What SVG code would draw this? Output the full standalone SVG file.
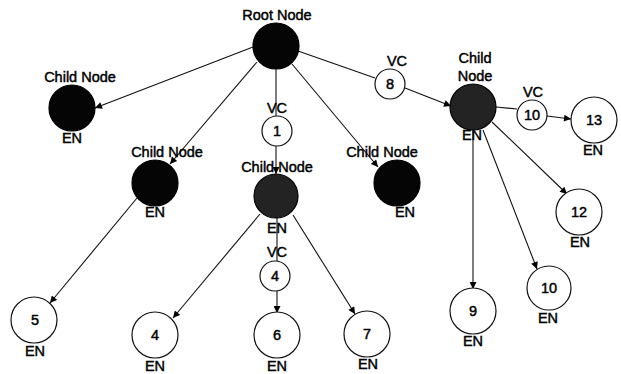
<svg xmlns="http://www.w3.org/2000/svg" width="621" height="374" viewBox="0 0 621 374">
  <style>
    .bg { fill: #ffffff; }
    .edge { stroke: #111; stroke-width: 1.1; fill: none; }
    .arrow { marker-end: url(#head); }
    .solid { fill: #050505; stroke: #000; stroke-width: 1.2; }
    .grey { fill: #232323; stroke: #000; stroke-width: 1.2; }
    .open { fill: #ffffff; stroke: #111; stroke-width: 1.2; }
    text { font-family: "Liberation Sans", Arial, sans-serif; font-size: 14.5px; font-weight: normal; fill: #000; stroke: #000; stroke-width: 0.45; text-anchor: middle; }
  </style>
  <defs>
    <marker id="head" viewBox="0 0 10 10" refX="10" refY="5" markerWidth="9" markerHeight="7" markerUnits="userSpaceOnUse" orient="auto">
      <path d="M0,0 L10,5 L0,10 Z" fill="#000"/>
    </marker>
  </defs>
  <rect class="bg" x="0" y="0" width="621" height="374"/>

  <g id="connectors">
    <line class="edge arrow" x1="253" y1="47" x2="95" y2="108"/>
    <line class="edge arrow" x1="257" y1="62" x2="170" y2="164"/>
    <line class="edge" x1="276" y1="69" x2="276" y2="116"/>
    <line class="edge arrow" x1="276" y1="146" x2="276" y2="174"/>
    <line class="edge arrow" x1="292" y1="64" x2="378" y2="167"/>
    <line class="edge" x1="298" y1="51" x2="375" y2="78"/>
    <line class="edge arrow" x1="405" y1="88" x2="451" y2="106"/>
    <line class="edge" x1="496" y1="107" x2="517" y2="109"/>
    <line class="edge arrow" x1="547" y1="116" x2="571" y2="119"/>
    <line class="edge arrow" x1="492" y1="122" x2="567" y2="194"/>
    <line class="edge arrow" x1="483" y1="130" x2="537" y2="269"/>
    <line class="edge arrow" x1="473" y1="130" x2="473" y2="289"/>
    <line class="edge arrow" x1="137" y1="198" x2="50" y2="303"/>
    <line class="edge arrow" x1="260" y1="214" x2="173" y2="318"/>
    <line class="edge" x1="277" y1="217" x2="277" y2="261"/>
    <line class="edge arrow" x1="277" y1="291" x2="277" y2="313"/>
    <line class="edge arrow" x1="293" y1="215" x2="355" y2="314"/>
  </g>

  <g id="root">
    <circle class="solid" cx="276" cy="46" r="23"/>
    <text x="277" y="20">Root Node</text>
  </g>
  <g id="child-left">
    <circle class="solid" cx="72" cy="108" r="23"/>
    <text x="80" y="82">Child Node</text>
    <text x="72" y="143">EN</text>
  </g>
  <g id="child-mid-left">
    <circle class="solid" cx="155" cy="183" r="23"/>
    <text x="167" y="157">Child Node</text>
    <text x="155" y="217">EN</text>
  </g>
  <g id="vc-1">
    <circle class="open" cx="277" cy="131" r="15"/>
    <text x="277" y="113">VC</text>
    <text x="277" y="136">1</text>
  </g>
  <g id="child-center">
    <circle class="grey" cx="276" cy="196" r="22"/>
    <text x="277" y="172">Child Node</text>
    <text x="277" y="233">EN</text>
  </g>
  <g id="child-mid-right">
    <circle class="solid" cx="397" cy="183" r="23"/>
    <text x="382" y="157">Child Node</text>
    <text x="405" y="217">EN</text>
  </g>
  <g id="vc-8">
    <circle class="open" cx="390" cy="84" r="15"/>
    <text x="397" y="66">VC</text>
    <text x="390" y="89">8</text>
  </g>
  <g id="child-right">
    <circle class="grey" cx="473" cy="107" r="23"/>
    <text x="475" y="63">Child</text>
    <text x="475" y="81">Node</text>
    <text x="472" y="140">EN</text>
  </g>
  <g id="vc-10">
    <circle class="open" cx="532" cy="115" r="15"/>
    <text x="533" y="97">VC</text>
    <text x="532" y="120">10</text>
  </g>
  <g id="node-13">
    <circle class="open" cx="594" cy="120" r="23"/>
    <text x="594" y="125">13</text>
    <text x="593" y="155">EN</text>
  </g>
  <g id="node-12">
    <circle class="open" cx="579" cy="212" r="23"/>
    <text x="579" y="217">12</text>
    <text x="580" y="247">EN</text>
  </g>
  <g id="node-10">
    <circle class="open" cx="549" cy="288" r="22"/>
    <text x="549" y="293">10</text>
    <text x="548" y="323">EN</text>
  </g>
  <g id="node-9">
    <circle class="open" cx="473" cy="311" r="23"/>
    <text x="473" y="316">9</text>
    <text x="473" y="346">EN</text>
  </g>
  <g id="node-5">
    <circle class="open" cx="34" cy="320" r="23"/>
    <text x="35" y="325">5</text>
    <text x="35" y="356">EN</text>
  </g>
  <g id="node-4">
    <circle class="open" cx="155" cy="335" r="23"/>
    <text x="155" y="340">4</text>
    <text x="155" y="371">EN</text>
  </g>
  <g id="vc-4">
    <circle class="open" cx="275" cy="276" r="15"/>
    <text x="277" y="257">VC</text>
    <text x="275" y="281">4</text>
  </g>
  <g id="node-6">
    <circle class="open" cx="277" cy="335" r="23"/>
    <text x="277" y="340">6</text>
    <text x="277" y="371">EN</text>
  </g>
  <g id="node-7">
    <circle class="open" cx="367" cy="334" r="23"/>
    <text x="367" y="339">7</text>
    <text x="368" y="369">EN</text>
  </g>
</svg>
